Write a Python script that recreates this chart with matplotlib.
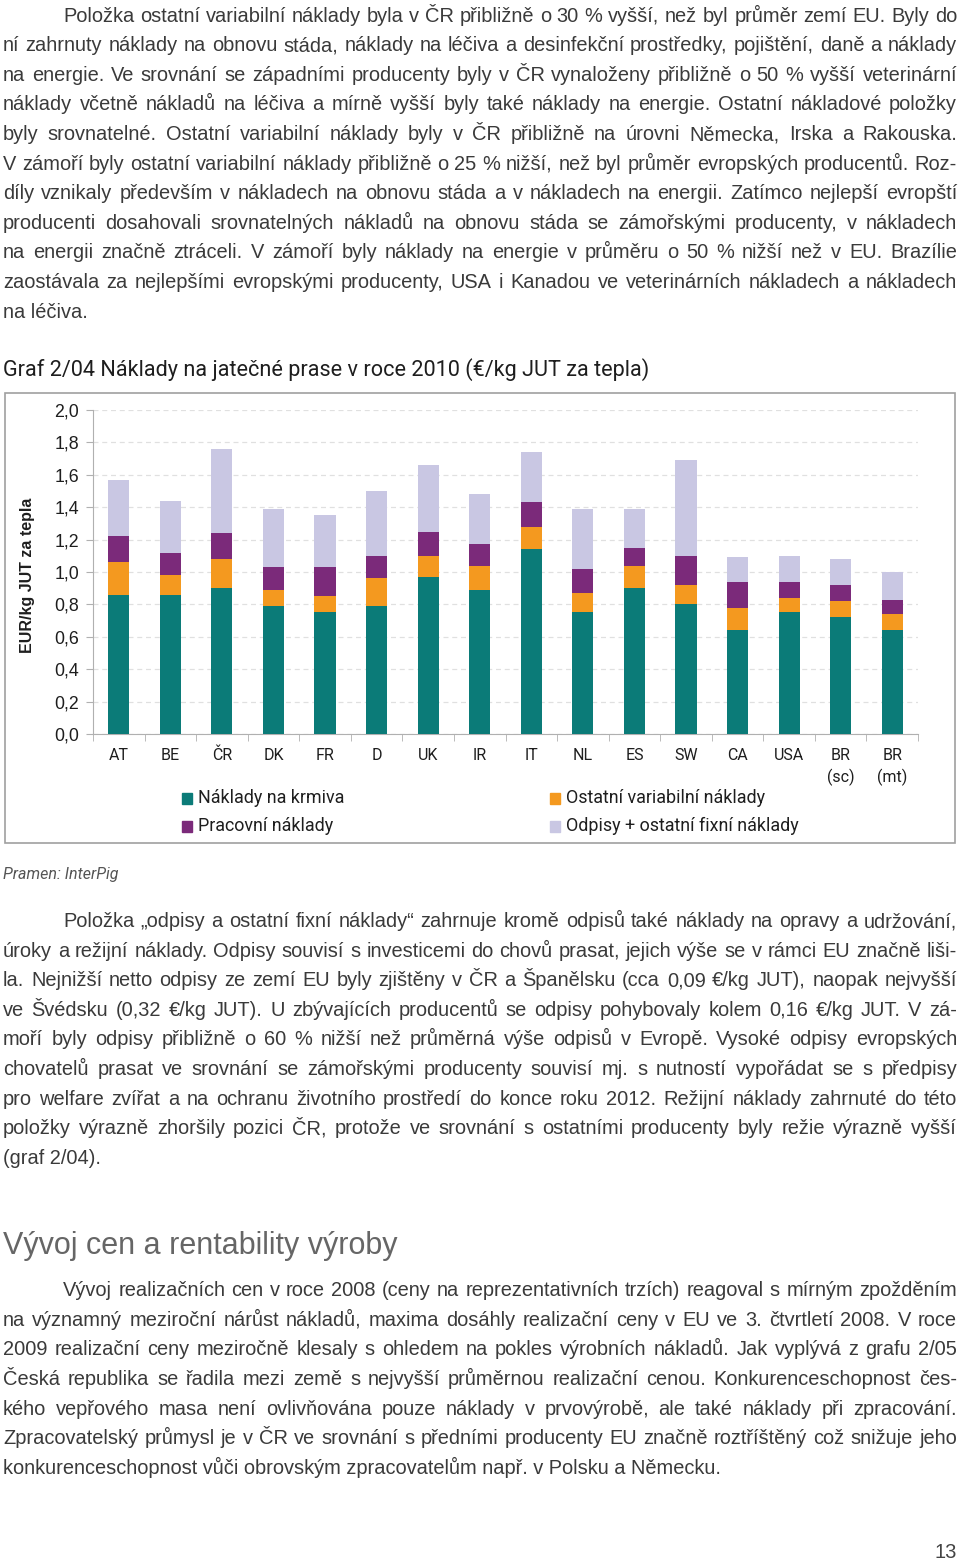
import matplotlib
matplotlib.use("Agg")
import matplotlib.pyplot as plt
import numpy as np
from matplotlib.patches import Rectangle

plt.rcParams['font.family'] = ['Roboto', 'DejaVu Sans']

W, H = 960, 1562

# Data (EUR/kg JUT za tepla)
countries = ["AT", "BE", "ČR", "DK", "FR", "D", "UK", "IR", "IT", "NL",
             "ES", "SW", "CA", "USA", "BR\n(sc)", "BR\n(mt)"]
krmiva = [0.86, 0.86, 0.90, 0.79, 0.75, 0.79, 0.97, 0.89, 1.14, 0.75,
          0.90, 0.80, 0.64, 0.75, 0.72, 0.64]
ostatni_var = [0.20, 0.12, 0.18, 0.10, 0.10, 0.17, 0.13, 0.15, 0.14, 0.12,
               0.14, 0.12, 0.14, 0.09, 0.10, 0.10]
pracovni = [0.16, 0.14, 0.16, 0.14, 0.18, 0.14, 0.15, 0.13, 0.15, 0.15,
            0.11, 0.18, 0.16, 0.10, 0.10, 0.09]
odpisy = [0.35, 0.32, 0.52, 0.36, 0.32, 0.40, 0.41, 0.31, 0.31, 0.37,
          0.24, 0.59, 0.15, 0.16, 0.16, 0.17]
series_names = ["Náklady na krmiva", "Ostatní variabilní náklady",
                "Pracovní náklady", "Odpisy + ostatní fixní náklady"]
colors = ["#0b7b78", "#f4991f", "#7b2a7a", "#c9c7e3"]
yticks = np.arange(0, 2.01, 0.2)

par1 = [
    "Položka ostatní variabilní náklady byla v ČR přibližně o 30 % vyšší, než byl průměr zemí EU. Byly do",
    "ní zahrnuty náklady na obnovu stáda, náklady na léčiva a desinfekční prostředky, pojištění, daně a náklady",
    "na energie. Ve srovnání se západními producenty byly v ČR vynaloženy přibližně o 50 % vyšší veterinární",
    "náklady včetně nákladů na léčiva a mírně vyšší byly také náklady na energie. Ostatní nákladové položky",
    "byly srovnatelné. Ostatní variabilní náklady byly v ČR přibližně na úrovni Německa, Irska a Rakouska.",
    "V zámoří byly ostatní variabilní náklady přibližně o 25 % nižší, než byl průměr evropských producentů. Roz-",
    "díly vznikaly především v nákladech na obnovu stáda a v nákladech na energii. Zatímco nejlepší evropští",
    "producenti dosahovali srovnatelných nákladů na obnovu stáda se zámořskými producenty, v nákladech",
    "na energii značně ztráceli. V zámoří byly náklady na energie v průměru o 50 % nižší než v EU. Brazílie",
    "zaostávala za nejlepšími evropskými producenty, USA i Kanadou ve veterinárních nákladech a nákladech",
    "na léčiva.",
]
par2 = [
    "Položka „odpisy a ostatní fixní náklady“ zahrnuje kromě odpisů také náklady na opravy a udržování,",
    "úroky a režijní náklady. Odpisy souvisí s investicemi do chovů prasat, jejich výše se v rámci EU značně liši-",
    "la. Nejnižší netto odpisy ze zemí EU byly zjištěny v ČR a Španělsku (cca 0,09 €/kg JUT), naopak nejvyšší",
    "ve Švédsku (0,32 €/kg JUT). U zbývajících producentů se odpisy pohybovaly kolem 0,16 €/kg JUT. V zá-",
    "moří byly odpisy přibližně o 60 % nižší než průměrná výše odpisů v Evropě. Vysoké odpisy evropských",
    "chovatelů prasat ve srovnání se zámořskými producenty souvisí mj. s nutností vypořádat se s předpisy",
    "pro welfare zvířat a na ochranu životního prostředí do konce roku 2012. Režijní náklady zahrnuté do této",
    "položky výrazně zhoršily pozici ČR, protože ve srovnání s ostatními producenty byly režie výrazně vyšší",
    "(graf 2/04).",
]
par3 = [
    "Vývoj realizačních cen v roce 2008 (ceny na reprezentativních trzích) reagoval s mírným zpožděním",
    "na významný meziroční nárůst nákladů, maxima dosáhly realizační ceny v EU ve 3. čtvrtletí 2008. V roce",
    "2009 realizační ceny meziročně klesaly s ohledem na pokles výrobních nákladů. Jak vyplývá z grafu 2/05",
    "Česká republika se řadila mezi země s nejvyšší průměrnou realizační cenou. Konkurenceschopnost čes-",
    "kého vepřového masa není ovlivňována pouze náklady v prvovýrobě, ale také náklady při zpracování.",
    "Zpracovatelský průmysl je v ČR ve srovnání s předními producenty EU značně roztříštěný což snižuje jeho",
    "konkurenceschopnost vůči obrovským zpracovatelům např. v Polsku a Německu.",
]

fig = plt.figure(figsize=(W / 100, H / 100), dpi=100)
rend = fig.canvas.get_renderer()


def fx(x):
    return x / W


def fy(y):
    return 1 - y / H


sans = ['Liberation Sans', 'DejaVu Sans']
body = dict(fontsize=14.4, color="#3a3a3a", family=sans, va="baseline")


def paragraph(lines, y0, step=29.6, indent=63, left=3, right=957):
    for i, line in enumerate(lines):
        y = y0 + i * step
        x0 = indent if i == 0 else left
        if i == len(lines) - 1:
            fig.text(fx(x0), fy(y), line, **body)
            continue
        words = line.split(" ")
        arts = [fig.text(0, fy(y), w, **body) for w in words]
        widths = [a.get_window_extent(rend).width for a in arts]
        gap = max((right - x0 - sum(widths)) / (len(words) - 1), 2.5)
        x = x0
        for a, wd in zip(arts, widths):
            a.set_x(fx(x))
            x += wd + gap


paragraph(par1, 21.7)
paragraph(par2, 927)
paragraph(par3, 1296, step=29.7)

narrow = ['Liberation Sans Narrow', 'Roboto', 'DejaVu Sans']

fig.text(fx(3), fy(376), "Graf 2/04 Náklady na jatečné prase v roce 2010 (€/kg JUT za tepla)",
         fontsize=15.6, color="#1e1e1e", family=narrow, va="baseline")
fig.text(fx(3), fy(1254), "Vývoj cen a rentability výroby",
         fontsize=22, color="#666666", family=sans, va="baseline")
fig.text(fx(3), fy(879), "Pramen: InterPig", fontsize=11.5, color="#555555",
         style="italic", family=narrow, va="baseline")
fig.text(fx(957), fy(1558), "13", fontsize=14.5, color="#444444",
         family=sans, ha="right", va="baseline")

# chart frame
fig.patches.append(Rectangle((fx(5), fy(843)), fx(950), 450 / H, transform=fig.transFigure,
                             fill=False, edgecolor="#a0a0a0", lw=1.2))

ax = fig.add_axes([fx(93), fy(734), fx(825), 324 / H])
x = np.arange(len(countries))
bottom = np.zeros(len(countries))
for vals, c, name in zip([krmiva, ostatni_var, pracovni, odpisy], colors, series_names):
    ax.bar(x, vals, 0.41, bottom=bottom, color=c, label=name, zorder=3)
    bottom += np.array(vals)

ax.set_xlim(-0.5, len(countries) - 0.5)
ax.set_ylim(0, 2.0)
ax.set_yticks(yticks)
ax.set_yticklabels([f"{v:.1f}".replace(".", ",") for v in yticks], fontsize=12.8,
                   color="#1e1e1e", family=sans)
ax.tick_params(axis="y", direction="out", length=5, color="#b0b0b0", pad=5)
ax.set_xticks(x)
ax.set_xticklabels(countries, fontsize=11.5, color="#1e1e1e", family=narrow, linespacing=1.45, va="top")
ax.set_xticks(np.arange(-0.5, len(countries)), minor=True)
ax.tick_params(axis="x", which="major", length=0, pad=10)
ax.tick_params(axis="x", which="minor", direction="out", length=5, color="#b0b0b0")
for s in ["top", "right"]:
    ax.spines[s].set_visible(False)
for s in ["left", "bottom"]:
    ax.spines[s].set_color("#b0b0b0")
ax.yaxis.grid(True, ls=(0, (4, 3)), color="#e0e0e0", lw=0.9, zorder=0)
ax.set_axisbelow(True)
ax.set_ylabel("EUR/kg JUT za tepla", fontsize=11.5, fontweight="bold", color="#1e1e1e",
              family=sans)
ax.yaxis.set_label_coords((35 - 93) / 825, 0.49)

# legend (two columns, manual layout)
leg_pos = [(182, 798), (550, 798), (182, 826), (550, 826)]
for (lx, ly), c, name in zip(leg_pos, colors, series_names):
    fig.patches.append(Rectangle((fx(lx), fy(ly + 6)), 10 / W, 11 / H,
                                 transform=fig.transFigure, color=c))
    fig.text(fx(lx + 16), fy(ly), name, fontsize=12.9, color="#1e1e1e",
             family=narrow, va="center")

fig.savefig("out.png", dpi=100)
